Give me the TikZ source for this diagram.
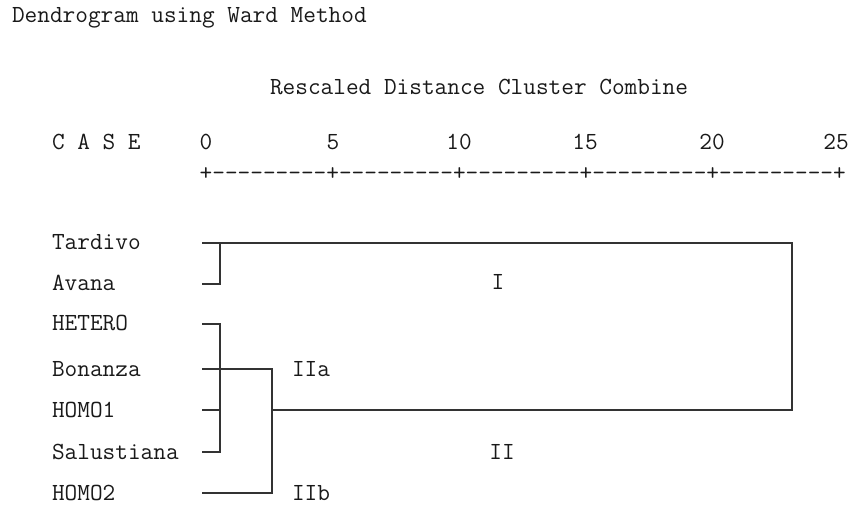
\documentclass[tikz,border=0pt]{standalone}
\usepackage{fontspec}
\setmonofont{Latin Modern Mono}
\newcommand\ninedash{-\kern0pt-\kern0pt-\kern0pt-\kern0pt-\kern0pt-\kern0pt-\kern0pt-\kern0pt-\kern0pt}
\begin{document}
\begin{tikzpicture}[x=1bp,y=-1bp,
  every node/.style={inner sep=0pt, outer sep=0pt, text=black!90, font=\ttfamily\fontsize{24.69}{28}\selectfont},
  lbl/.style={anchor=base west},
  num/.style={anchor=base},
  ln/.style={draw=black!80, line width=1.8bp}]
\useasboundingbox (0,0) rectangle (852,510);
% headings
\node[lbl] (title) at (12,23) {Dendrogram using Ward Method};
\node[lbl] (resc) at (270,95) {Rescaled Distance Cluster Combine};
\node[lbl] (case) at (52,150) {C A S E};
\node[num] (n0) at (206,150) {0};
\node[num] (n5) at (333,150) {5};
\node[num] (n10) at (459,150) {10};
\node[num] (n15) at (585,150) {15};
\node[num] (n20) at (712,150) {20};
\node[num] (n25) at (836,150) {25};
\node[lbl] (axis) at (199.7,181) {+\ninedash+\ninedash+\ninedash+\ninedash+\ninedash+};
% case labels
\node[lbl] (tard) at (52,250) {Tardivo};
\node[lbl] (avan) at (52,291) {Avana};
\node[lbl] (hete) at (52,331) {HETERO};
\node[lbl] (bona) at (52,376) {Bonanza};
\node[lbl] (hom1) at (52,417) {HOMO1};
\node[lbl] (salu) at (52,459) {Salustiana};
\node[lbl] (hom2) at (52,500) {HOMO2};
% cluster labels
\node[num] (cI) at (498,290) {I};
\node[num] (cII) at (502,459) {II};
\node[lbl] (cIIa) at (292,376) {IIa};
\node[lbl] (cIIb) at (292,500) {IIb};
% leaf ends and junctions
\coordinate (lt) at (202,243);
\coordinate (la) at (202,284);
\coordinate (lh) at (202,324);
\coordinate (lb) at (202,369);
\coordinate (l1) at (202,410);
\coordinate (ls) at (202,452);
\coordinate (l2) at (202,493);
\coordinate (jt) at (792,243);
\coordinate (jm) at (272,410);
\coordinate (jb) at (792,410);
% tree
\draw[ln] (la) -- (220,284) -- (220,243);
\draw[ln] (lt) -- (jt) -- (jb) -- (jm);
\draw[ln] (lh) -- (220,324) -- (220,452) -- (ls);
\draw[ln] (l1) -- (220,410);
\draw[ln] (lb) -- (272,369) -- (272,493) -- (l2);
\end{tikzpicture}
\end{document}
